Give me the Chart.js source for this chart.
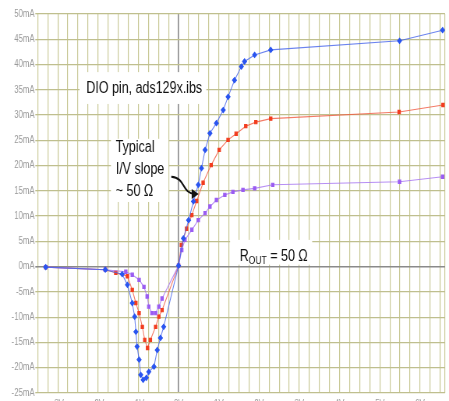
<!DOCTYPE html>
<html>
<head>
<meta charset="utf-8">
<script src="https://cdn.jsdelivr.net/npm/chart.js@4"></script>
<style>
  html, body { margin: 0; padding: 0; overflow: hidden; background: #fff; }
  /* the plot is laid out wide and then squeezed horizontally */
  #c { display: block; transform: scaleX(0.7795); transform-origin: 0 0; }
</style>
</head>
<body>
<canvas id="c" width="576" height="423"></canvas>
<script>
// DIO pin I/V curves (volts, milliamps) for the three IBIS corners
const fastV = [-3.30, -1.82, -1.40, -1.27, -1.15, -1.09, -1.06, -1.03, -0.98, -0.94, -0.88, -0.80, -0.74, -0.61, -0.53, -0.45, -0.37, 0.00, 0.12, 0.25, 0.37, 0.49, 0.57, 0.66, 0.78, 0.94, 1.11, 1.23, 1.39, 1.56, 1.64, 1.89, 2.29, 5.49, 6.56];
const fastI = [-0.1, -0.6, -1.5, -3.6, -7.2, -9.9, -12.9, -15.8, -18.4, -21.4, -22.4, -22.0, -20.8, -19.8, -16.5, -14.1, -11.9, 0.2, 5.6, 9.2, 12.9, 16.2, 19.5, 23.1, 26.4, 28.4, 31.0, 33.6, 36.9, 39.6, 40.6, 41.9, 42.9, 44.7, 46.8];

const typV = [-3.30, -1.82, -1.56, -1.27, -1.15, -1.06, -0.98, -0.90, -0.84, -0.77, -0.70, -0.57, -0.49, -0.41, 0.00, 0.07, 0.20, 0.33, 0.45, 0.61, 0.81, 1.01, 1.23, 1.43, 1.67, 1.92, 2.29, 5.48, 6.57];
const typI = [-0.1, -0.6, -1.2, -1.9, -4.6, -7.2, -9.2, -11.9, -14.5, -16.1, -14.5, -11.9, -9.9, -8.6, 0.2, 4.3, 7.5, 10.2, 13.0, 16.6, 20.1, 23.1, 25.1, 26.3, 27.8, 28.6, 29.3, 30.6, 32.0];

const slowV = [-3.30, -1.82, -1.31, -1.15, -0.98, -0.86, -0.78, -0.74, -0.66, -0.57, -0.49, -0.41, 0.00, 0.08, 0.16, 0.33, 0.49, 0.66, 0.78, 0.94, 1.15, 1.35, 1.60, 1.89, 2.34, 5.49, 6.56];
const slowI = [-0.1, -0.6, -1.0, -1.6, -2.6, -4.0, -5.9, -7.9, -9.2, -9.2, -7.9, -6.3, 0.2, 3.3, 5.3, 7.3, 9.2, 10.6, 11.9, 13.2, 14.2, 14.8, 15.2, 15.5, 16.2, 16.8, 17.8];

// axis settings
const voltMin = -3.5, voltMax = 6.62, voltStep = 0.25;
const ampMin = -25, ampMax = 50, ampStep = 5;

const pairs = (vs, is) => vs.map((v, i) => ({x: v, y: is[i]}));

const FONT = '"Liberation Sans", Arial, sans-serif';

// white label boxes, text and the pointer arrow
const notes = {
  id: 'notes',
  beforeDatasetsDraw(chart) {
    const {ctx, scales: {x, y}} = chart;
    const box = (x0, x1, y0, y1) => {
      const l = x.getPixelForValue(x0), r = x.getPixelForValue(x1);
      const t = y.getPixelForValue(y0), b = y.getPixelForValue(y1);
      ctx.fillRect(l, t, r - l, b - t);
    };
    ctx.save();
    ctx.fillStyle = '#ffffff';
    box(-2.46, 0.69, 38.5, 32.2);
    box(-1.68, -0.25, 25.3, 12.8);
    box(1.28, 3.32, 5.3, 0.4);

    ctx.fillStyle = '#111111';
    ctx.textBaseline = 'middle';
    ctx.textAlign = 'left';
    ctx.font = '16px ' + FONT;
    ctx.fillText('DIO pin, ads129x.ibs', x.getPixelForValue(-2.29), y.getPixelForValue(35.3));
    const tx = x.getPixelForValue(-1.56);
    ctx.fillText('Typical', tx, y.getPixelForValue(23.6));
    ctx.fillText('I/V slope', tx, y.getPixelForValue(19.2));
    ctx.fillText('~ 50 \u03A9', tx, y.getPixelForValue(14.8));

    let rx = x.getPixelForValue(1.52);
    const ry = y.getPixelForValue(2.0);
    ctx.fillText('R', rx, ry);
    rx += ctx.measureText('R').width;
    ctx.font = '11px ' + FONT;
    ctx.fillText('OUT', rx, ry + 4);
    rx += ctx.measureText('OUT').width;
    ctx.font = '16px ' + FONT;
    ctx.fillText(' = 50 \u03A9', rx, ry);
    ctx.restore();
  },
  afterDatasetsDraw(chart) {
    const {ctx, scales: {x, y}} = chart;
    const X = v => x.getPixelForValue(v), Y = v => y.getPixelForValue(v);
    ctx.save();
    ctx.strokeStyle = '#111111';
    ctx.fillStyle = '#111111';
    ctx.lineWidth = 2;
    ctx.beginPath();
    ctx.moveTo(X(-0.18), Y(17.8));
    ctx.bezierCurveTo(X(0.18), Y(17.6), X(0.08), Y(14.5), X(0.40), Y(14.4));
    ctx.stroke();
    const hx = X(0.50), hy = Y(14.4);
    ctx.beginPath();
    ctx.moveTo(hx, hy);
    ctx.lineTo(hx - 9, hy - 5);
    ctx.lineTo(hx - 9, hy + 5);
    ctx.closePath();
    ctx.fill();
    ctx.restore();
  }
};

const gridOlive = '#bfbf8e';
const axisGray = '#8a8a8a';

new Chart(document.getElementById('c'), {
  type: 'line',
  data: {
    datasets: [
      {
        data: pairs(fastV, fastI),
        borderColor: 'rgba(70,100,235,0.8)',
        backgroundColor: '#2a55f0',
        pointBorderColor: '#2a55f0',
        pointStyle: 'rectRot',
        pointRadius: 2.6,
        borderWidth: 1.1
      },
      {
        data: pairs(slowV, slowI),
        borderColor: 'rgba(165,115,240,0.8)',
        backgroundColor: '#9a5cf2',
        pointBorderColor: '#9a5cf2',
        pointStyle: 'rect',
        pointRadius: 2.3,
        borderWidth: 1.1
      },
      {
        data: pairs(typV, typI),
        borderColor: 'rgba(240,90,65,0.8)',
        backgroundColor: '#f23c1e',
        pointBorderColor: '#f23c1e',
        pointStyle: 'rect',
        pointRadius: 2.3,
        borderWidth: 1.1
      }
    ]
  },
  options: {
    responsive: false,
    animation: false,
    devicePixelRatio: 1,
    layout: { padding: { top: 14, right: 0, bottom: 0, left: 0 } },
    plugins: { legend: { display: false }, tooltip: { enabled: false } },
    elements: { line: { tension: 0 }, point: { borderWidth: 1 } },
    scales: {
      x: {
        type: 'linear',
        min: voltMin,
        max: voltMax,
        bounds: 'data',
        border: { display: false },
        afterFit: s => { s.height = 30; },
        grid: {
          drawTicks: false,
          lineWidth: c => (c.tick && c.tick.value === 0 ? 1.6 : 1.2),
          color: c => (c.tick && c.tick.value === 0 ? axisGray : '#c9c996')
        },
        ticks: {
          stepSize: voltStep,
          includeBounds: false,
          autoSkip: false,
          maxRotation: 0,
          padding: 5,
          color: '#9a9a9a',
          font: { family: FONT, size: 10 },
          callback: v => (Number.isInteger(v) ? v + 'V' : '')
        }
      },
      y: {
        type: 'linear',
        min: ampMin,
        max: ampMax,
        border: { display: false },
        afterFit: s => { s.width = 48.3; },
        grid: {
          tickLength: 3,
          lineWidth: c => (c.tick && c.tick.value === 0 ? 1.6 : 1.3),
          color: c => (c.tick && c.tick.value === 0 ? axisGray : gridOlive)
        },
        ticks: {
          stepSize: ampStep,
          padding: 1,
          color: '#9a9a9a',
          font: { family: FONT, size: 10 },
          callback: v => v + 'mA'
        }
      }
    }
  },
  plugins: [notes]
});
</script>
</body>
</html>
